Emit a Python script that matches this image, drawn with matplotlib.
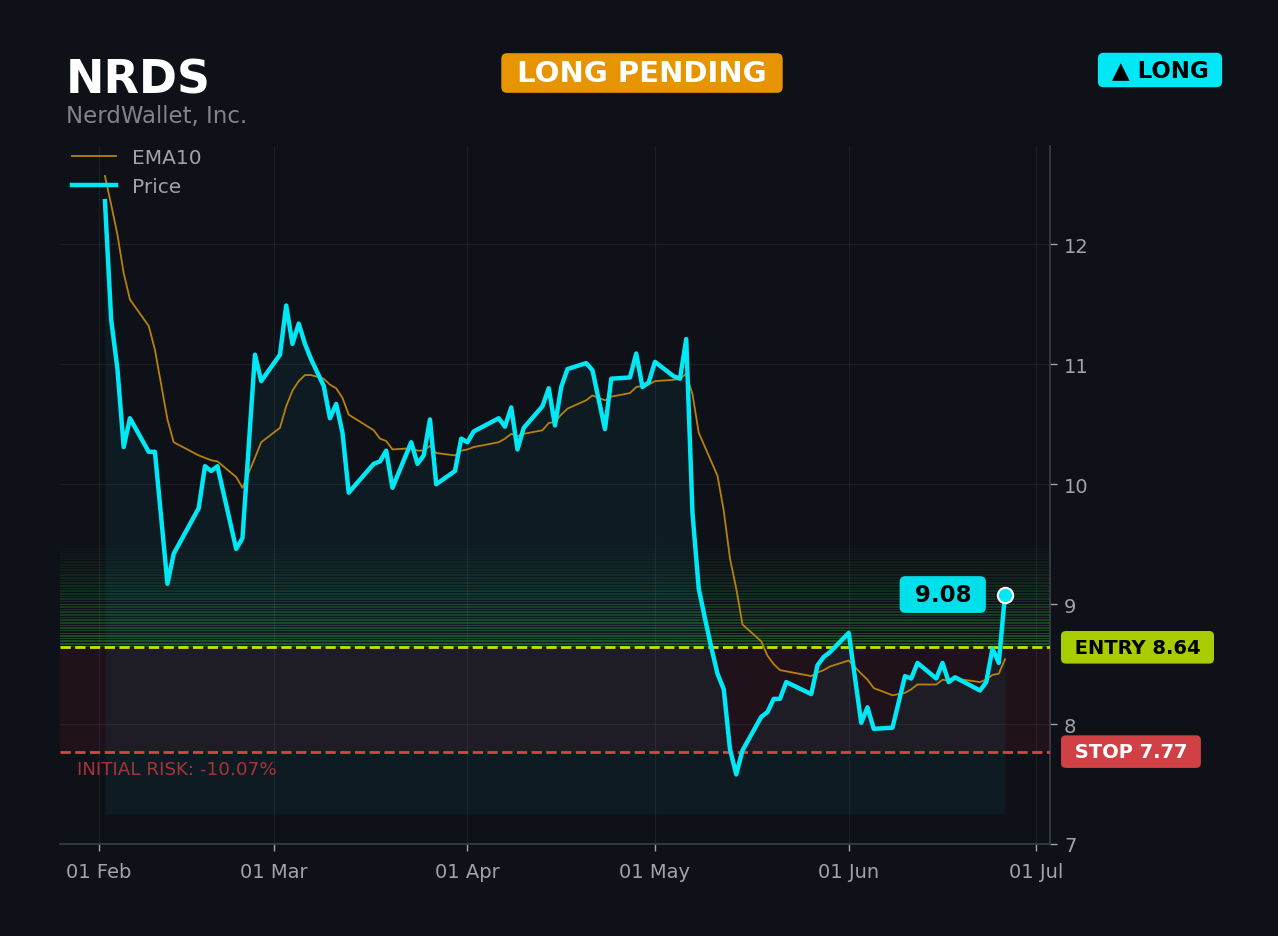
import matplotlib
matplotlib.use("Agg")
import matplotlib.pyplot as plt
import matplotlib.dates as mdates
import matplotlib.transforms as mtransforms
import numpy as np
import pandas as pd

# ---- data (days counted from 01 Feb) ----
ticker = "NRDS"
company = "NerdWallet, Inc."
status = "LONG PENDING"
side = "\u25B2 LONG"
entry = 8.64
stop = 7.77
risk_pct = -10.07

days = [1, 2, 3, 4, 5, 8, 9, 11, 12, 16, 17, 18, 19, 22, 23, 25, 26, 29, 30, 31,
        32, 33, 34, 36, 37, 38, 39, 40, 44, 45, 46, 47, 50, 51, 52, 53, 54, 57, 58, 59,
        60, 64, 65, 66, 67, 68, 71, 72, 73, 74, 75, 78, 79, 81, 82, 85, 86, 87, 88, 89,
        92, 93, 94, 95, 96, 97, 98, 99, 100, 101, 102, 103, 106, 107, 108, 109, 110, 114, 115, 116,
        117, 120, 122, 123, 124, 127, 129, 130, 131, 134, 135, 136, 137, 141, 142, 143, 144, 145]

price = [12.36, 11.37, 10.96, 10.31, 10.55, 10.27, 10.27, 9.17, 9.42, 9.80, 10.15, 10.11, 10.15, 9.46, 9.55, 11.08, 10.86, 11.08, 11.49, 11.17,
         11.34, 11.17, 11.04, 10.82, 10.55, 10.67, 10.43, 9.93, 10.17, 10.19, 10.28, 9.97, 10.35, 10.17, 10.24, 10.54, 10.00, 10.11, 10.38, 10.35,
         10.44, 10.55, 10.48, 10.64, 10.29, 10.47, 10.65, 10.80, 10.49, 10.81, 10.96, 11.01, 10.95, 10.46, 10.88, 10.89, 11.09, 10.81, 10.85, 11.02,
         10.90, 10.88, 11.21, 9.76, 9.13, 8.88, 8.64, 8.42, 8.29, 7.79, 7.58, 7.78, 8.06, 8.10, 8.21, 8.21, 8.35, 8.25, 8.49, 8.56,
         8.60, 8.76, 8.01, 8.14, 7.96, 7.97, 8.40, 8.38, 8.51, 8.38, 8.51, 8.35, 8.39, 8.28, 8.35, 8.63, 8.51, 9.08]

ema10 = [12.57, 12.33, 12.08, 11.76, 11.54, 11.32, 11.12, 10.54, 10.35, 10.24, 10.22, 10.20, 10.19, 10.06, 9.97, 10.22, 10.35, 10.47, 10.65, 10.78,
         10.86, 10.91, 10.91, 10.88, 10.83, 10.80, 10.72, 10.58, 10.45, 10.38, 10.36, 10.29, 10.30, 10.28, 10.28, 10.32, 10.26, 10.24, 10.28, 10.29,
         10.31, 10.35, 10.38, 10.42, 10.40, 10.42, 10.45, 10.51, 10.52, 10.58, 10.63, 10.70, 10.74, 10.70, 10.73, 10.76, 10.81, 10.82, 10.83, 10.86,
         10.87, 10.88, 10.92, 10.75, 10.43, 10.31, 10.19, 10.07, 9.78, 9.38, 9.13, 8.83, 8.69, 8.57, 8.50, 8.45, 8.44, 8.40, 8.43, 8.45,
         8.48, 8.53, 8.42, 8.37, 8.30, 8.24, 8.26, 8.29, 8.33, 8.33, 8.37, 8.36, 8.38, 8.35, 8.37, 8.41, 8.42, 8.54]

dates = pd.Timestamp("2025-02-01") + pd.to_timedelta(days, unit="D")

BG = "#0e1118"
CYAN = "#00e8f5"
GRAY = "#a0a3a8"

fig = plt.figure(figsize=(12.78, 9.37), dpi=100, facecolor=BG)
ax = fig.add_axes([0.0469, 0.0982, 0.7747, 0.7449], facecolor=BG)

# green gradient band above entry
n_strips = 40
top_band = 9.52
edges = np.linspace(entry, top_band, n_strips + 1)
step = edges[1] - edges[0]
for k in range(n_strips):
    a = 0.36 * (1 - k / n_strips) ** 1.1
    ax.axhspan(edges[k], edges[k + 1] - step * 0.4,
               color="#33c43c", alpha=a, lw=0, zorder=0.5)

# risk zone
ax.axhspan(stop, entry, color="#ff2a3a", alpha=0.08, lw=0, zorder=0.5)

# fill below price
ax.fill_between(dates, price, 7.25, color="#10a8c0", alpha=0.07, lw=0, zorder=1)

ax.plot(dates, ema10, color="#b8800e", lw=1.3, label="EMA10", zorder=3)
ax.plot(dates, price, color=CYAN, lw=3.2, label="Price", zorder=4)
ax.plot(dates[-1], price[-1], "o", color=CYAN, ms=11, mec="white", mew=1.5, zorder=5)

ax.axhline(entry, color="#c8e000", ls="--", lw=2, zorder=3)
ax.axhline(stop, color="#d84444", ls="--", lw=2, zorder=3)

ax.set_ylim(7, 12.82)
ax.yaxis.tick_right()
ax.set_yticks([7, 8, 9, 10, 11, 12])
ax.xaxis.set_major_locator(mdates.MonthLocator())
ax.xaxis.set_major_formatter(mdates.DateFormatter("%d %b"))
ax.tick_params(colors=GRAY, labelsize=14, length=5, width=1)
ax.tick_params(axis="y", pad=5)
ax.tick_params(axis="x", pad=8)
for s in ["left", "top"]:
    ax.spines[s].set_visible(False)
for s in ["right", "bottom"]:
    ax.spines[s].set_color("#3a3e45")
    ax.spines[s].set_linewidth(1.2)
ax.grid(True, color="#ffffff", alpha=0.06, lw=0.9)

leg = ax.legend(loc="upper left", frameon=False, fontsize=14.5, handlelength=2.2,
                borderaxespad=0.0, borderpad=0.1, bbox_to_anchor=(0.01, 1.0))
for t in leg.get_texts():
    t.set_color(GRAY)

trans = mtransforms.blended_transform_factory(ax.transAxes, ax.transData)
ax.text(1.018, entry, f" ENTRY {entry:.2f} ", transform=trans, ha="left", va="center",
        fontsize=14, fontweight="bold", color="black",
        bbox=dict(boxstyle="round,pad=0.35,rounding_size=0.25", fc="#a8cc00", ec="none"))
ax.text(1.018, stop, f" STOP {stop:.2f} ", transform=trans, ha="left", va="center",
        fontsize=14, fontweight="bold", color="white",
        bbox=dict(boxstyle="round,pad=0.35,rounding_size=0.25", fc="#d04045", ec="none"))
ax.text(0.017, 7.625, f"INITIAL RISK: {risk_pct:.2f}%", transform=trans, ha="left",
        va="center", fontsize=13.2, color="#c0393e", alpha=0.85)

ax.annotate(f" {price[-1]:.2f} ", xy=(dates[-1], price[-1]), xytext=(-26, 0),
            textcoords="offset pixels", ha="right", va="center", fontsize=16.5,
            fontweight="bold", color="black", zorder=6,
            bbox=dict(boxstyle="round,pad=0.3,rounding_size=0.25", fc="#00e0ea", ec="none"))

# header
fig.text(66 / 1278, 1 - 93 / 937, ticker, fontsize=33, fontweight="bold", color="white",
         ha="left", va="baseline")
fig.text(66 / 1278, 1 - 104.5 / 937, company, fontsize=16.5, color="#80838a", ha="left",
         va="top")
fig.text(642 / 1278, 1 - 74 / 937, f" {status} ", fontsize=21, fontweight="bold",
         color="white", ha="center", va="center",
         bbox=dict(boxstyle="round,pad=0.2,rounding_size=0.2", fc="#e69500", ec="none"))
fig.text(1160 / 1278, 1 - 71 / 937, f" {side} ", fontsize=16.5, fontweight="bold",
         color="black", ha="center", va="center",
         bbox=dict(boxstyle="round,pad=0.25,rounding_size=0.25", fc="#00e8f5", ec="none"))

fig.savefig("out.png", dpi=100, facecolor=BG)
